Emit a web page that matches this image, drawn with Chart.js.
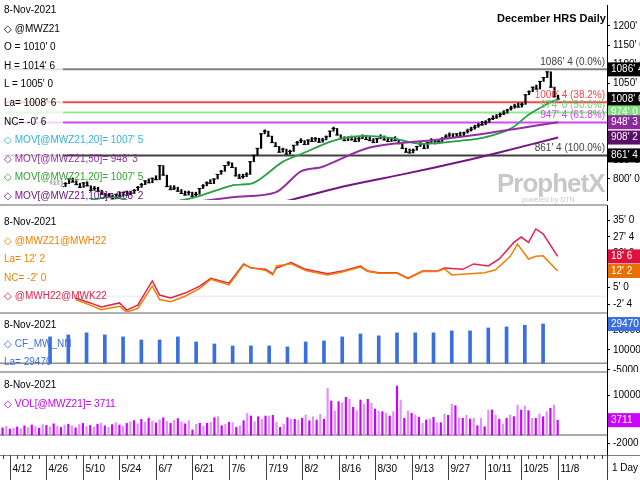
<!DOCTYPE html>
<html>
<head>
<meta charset="utf-8">
<script src="https://cdn.jsdelivr.net/npm/chart.js@4.4.0/dist/chart.umd.min.js"></script>
<style>
  body { margin: 0; background: #fff; font-family: "Liberation Sans", Arial, sans-serif; }
  #wrap { position: relative; width: 640px; height: 480px; overflow: hidden; }
  .pn { position: absolute; left: 0; width: 640px; }
  .lg { position: absolute; left: 4px; font-size: 10px; line-height: 18.6px; white-space: nowrap; }
  .sep { position: absolute; left: 0; width: 607px; height: 2px; background: #b0b0b0; }
</style>
</head>
<body>
<div id="wrap">
  <div class="pn" style="top:0;height:205px"><canvas id="c1" width="640" height="205"></canvas></div>
  <div class="pn" style="top:205px;height:108px"><canvas id="c2" width="640" height="108"></canvas></div>
  <div class="pn" style="top:313px;height:59px"><canvas id="c3" width="640" height="59"></canvas></div>
  <div class="pn" style="top:372px;height:108px"><canvas id="c4" width="640" height="108"></canvas></div>
  <div class="sep" style="top:204px"></div>
  <div class="sep" style="top:312px"></div>
  <div class="sep" style="top:371px"></div>

  <div class="lg" style="top:1px">
    <div>8-Nov-2021</div>
    <div>&#9671; @MWZ21</div>
    <div>O = 1010' 0</div>
    <div>H = 1014' 6</div>
    <div>L = 1005' 0</div>
    <div>La= 1008' 6</div>
    <div>NC= -0' 6</div>
    <div style="color:#30b0e0">&#9671; MOV[@MWZ21,20]= 1007' 5</div>
    <div style="color:#9030a0">&#9671; MOV[@MWZ21,50]= 948' 3</div>
    <div style="color:#30a030">&#9671; MOV[@MWZ21,20]= 1007' 5</div>
    <div style="color:#701880">&#9671; MOV[@MWZ21,100]= 908' 2</div>
  </div>
  <div class="lg" style="top:213px">
    <div>8-Nov-2021</div>
    <div style="color:#f08000">&#9671; @MWZ21@MWH22</div>
    <div style="color:#f08000">La= 12' 2</div>
    <div style="color:#f08000">NC= -2' 0</div>
    <div style="color:#e8204a">&#9671; @MWH22@MWK22</div>
  </div>
  <div class="lg" style="top:316px">
    <div>8-Nov-2021</div>
    <div style="color:#3b6fe0">&#9671; CF_MW_NN</div>
    <div style="color:#3b6fe0">La= 29470</div>
  </div>
  <div class="lg" style="top:376px">
    <div>8-Nov-2021</div>
    <div style="color:#cc00ff">&#9671; VOL[@MWZ21]= 3711</div>
  </div>
  <div style="position:absolute;left:497px;top:12px;font-size:11px;font-weight:bold;font-family:'Liberation Sans Narrow','Liberation Sans',sans-serif">December HRS Daily</div>
  <div style="position:absolute;left:497px;top:168px;font-size:26px;font-weight:bold;color:#c8c8c8;letter-spacing:-1px">ProphetX</div>
  <div style="position:absolute;left:522px;top:196px;font-size:7px;color:#c8c8c8">powered by DTN</div>
  <div style="position:absolute;left:612px;top:462px;font-size:10px">1 Day</div>
</div>
<script>
// x axis = weekday index, 0 = Mon 4/12/2021
const dateLabels = ["4/12","4/26","5/10","5/24","6/7","6/21","7/6","7/19","8/2","8/16","8/30","9/13","9/27","10/11","10/25","11/8"];
const dateIdx = [0,10,20,30,40,50,60,70,80,90,100,110,120,130,140,150];

// December HRS closes, idx 10..150
const priceStart = 10;
const closes = [790,785,795,780,788,800,792,785,778,790,782,770,775,768,760,
  752,758,748,760,755,765,758,762,770,778,785,
  795,790,802,798,835,
  810,780,772,776,768,
  762,758,765,755,760,
  775,782,790,788,800,812,820,835,842,
  830,808,802,806,812,
  845,862,880,918,925,
  912,895,885,870,878,865,872,888,
  895,900,890,902,898,905,896,902,910,925,932,
  915,905,900,908,902,898,905,910,903,900,895,905,908,902,898,905,900,892,880,
  870,868,875,
  885,890,880,895,900,892,898,905,
  910,915,908,918,912,920,925,
  930,935,940,942,948,955,958,962,968,972,980,985,
  990,988,995,
  1020,1028,1040,1035,1055,
  1065,1080,
  1040,1015,1008.75];

const ma20Idx = [21,27,33,42,49,60,66,74,79,88,96,104,112,123,129,137,142,148,150];
const ma20Val = [745,753,740,740,750,783,790,845,865,900,912,907,892,900,907,932,969,1001,1007.6];
const ma50Idx = [48,60,72,79,85,98,116,125,139,150];
const ma50Val = [738,752,765,820,832,882,902,912,932,948.4];
const ma100Idx = [74,92,107,123,134,150];
const ma100Val = [740,783,812,845,870,908.25];

const fibVals = [1086.5,1000.5,974,947.5,861.5];
const fibText = ["1086' 4 (0.0%)","1000' 4 (38.2%)","974' 0 (50.0%)","947' 4 (61.8%)","861' 4 (100.0%)"];
const fibColors = ["#808080","#f04848","#90e890","#d848f0","#404040"];

// spreads
const redIdx = [18,22,25,30,32,35,39,41,44,48,52,55,60,64,66,70,72,73,77,81,87,91,96,98,101,106,109,113,117,119,124,127,131,134,138,140,142,144,146,150];
const redVal = [0.2,-2,-3.8,-2,-5.2,-3,7.8,1.5,0.2,2.4,5.5,9,6.8,15.4,13.6,13,11,13.6,16,13,11,12.2,14.5,12.2,11.5,11.5,9,12.2,12.2,13.6,13,15.4,14.5,17.6,25,27.4,25,31,28.8,18.75];
const orangeIdx = [18,22,25,30,32,35,39,41,44,48,52,55,60,64,66,70,72,73,77,81,87,91,96,98,101,106,109,113,117,119,121,124,130,133,137,139,142,144,146,150];
const orangeVal = [-0.5,-3,-5,-3.5,-6,-4.5,5.5,-0.5,-1.5,1,4.5,8.5,6,15,13.8,12.5,10.5,14.5,15.5,12.5,10.5,11.8,14,12,11.2,11.2,8.8,12,12,13.2,10.5,10.8,11.5,12.8,18.8,24.3,17.6,18.8,19,12.25];

// weekly CF_MW_NN, every 5th weekday from idx 11
const cotStart = 11;
const cotVal = [19800,21300,22800,21300,19800,17500,17500,19800,16000,14500,13000,13000,13000,12300,16000,16800,19800,22000,20600,22800,22800,22800,24300,24300,26500,27300,28500,29470];

// daily volume, idx -2..150
const volStart = -2;
const volVal = [1800,2200,1500,1700,2000,1600,2300,1900,2500,2100,1700,2600,2400,2000,2800,2200,1900,2500,2700,2300,
  1800,2600,2900,2100,2400,2000,2700,3000,2300,1900,2600,3100,2500,2200,2900,3300,3600,2800,3900,3200,
  4200,3500,3000,3800,4300,3400,2900,3700,4100,3300,2800,3600,
  1250,2670,2920,2250,2920,3170,4330,4580,2330,2670,3170,3080,1920,2330,3580,5420,4750,3330,4580,3920,
  4750,4750,4920,3170,1920,2670,4330,4000,3920,3750,4170,5000,3580,4580,3750,5170,3920,11670,8500,6000,
  8330,8080,9420,8920,6920,6080,8750,7750,8920,7920,6500,6000,5830,5420,4750,5830,12250,8750,4170,6000,
  5420,5000,4420,2920,3750,4000,4420,3080,3080,5170,4920,7670,7330,4330,4170,4920,4000,4170,2330,
  4170,2080,6250,6250,5000,3920,2750,4170,5000,4580,7500,6250,7250,6080,4170,4170,5250,4580,5830,6670,7500,3711];

const X_MIN = -2.7, X_MAX = 163.5;
const FONT = { family: "'Liberation Sans', Arial, sans-serif", size: 10 };

function pts(ix, vals) { return ix.map((x, i) => ({ x: x, y: vals[i] })); }

function eighths(v) {
  const w = Math.trunc(v);
  const f = Math.round(Math.abs(v - w) * 8);
  return (v < 0 && w === 0 ? "-0" : w) + "' " + f;
}

function panelPlugin(cfg) {
  return {
    id: "panel" + Math.random(),
    beforeDatasetsDraw(chart) {
      const ctx = chart.ctx, a = chart.chartArea, ys = chart.scales.y;
      ctx.save();
      (cfg.hlines || []).forEach(h => {
        const y = ys.getPixelForValue(h.v);
        ctx.strokeStyle = h.color; ctx.lineWidth = h.w || 2;
        ctx.beginPath(); ctx.moveTo(a.left, y); ctx.lineTo(a.right, y); ctx.stroke();
      });
      ctx.restore();
    },
    afterDatasetsDraw(chart) {
      const ctx = chart.ctx, a = chart.chartArea, ys = chart.scales.y;
      ctx.save();
      if (cfg.fade) {
        ctx.fillStyle = "rgba(255,255,255,0.75)";
        ctx.fillRect(a.left, a.top, cfg.fade, a.bottom - a.top);
      }
      ctx.font = "10px 'Liberation Sans', Arial";
      ctx.textAlign = "right"; ctx.textBaseline = "bottom";
      (cfg.labels || []).forEach(l => {
        ctx.fillStyle = l.color;
        ctx.fillText(l.text, a.right - 2, ys.getPixelForValue(l.v) - 2);
      });
      ctx.restore();
    },
    afterDraw(chart) {
      const ctx = chart.ctx, a = chart.chartArea, ys = chart.scales.y;
      ctx.save();
      ctx.font = "10px 'Liberation Sans', Arial";
      ctx.textBaseline = "middle"; ctx.textAlign = "left";
      (cfg.boxes || []).forEach(b => {
        const y = ys.getPixelForValue(b.v);
        ctx.fillStyle = b.bg;
        ctx.fillRect(a.right + 1, y - 7, 640 - a.right, 14);
        ctx.fillStyle = b.fg || "#fff";
        ctx.fillText(b.text, a.right + 4, y);
      });
      if (cfg.xaxis) {
        const xs = chart.scales.x;
        ctx.strokeStyle = "#808080"; ctx.lineWidth = 1;
        ctx.beginPath(); ctx.moveTo(a.left, a.bottom + 0.5); ctx.lineTo(640, a.bottom + 0.5); ctx.stroke();
        ctx.strokeStyle = "#404040";
        for (let i = -2; i <= 163; i += 2) {
          const x = Math.round(xs.getPixelForValue(i)) + 0.5;
          ctx.beginPath(); ctx.moveTo(x, a.bottom); ctx.lineTo(x, a.bottom + 4); ctx.stroke();
        }
        ctx.fillStyle = "#000"; ctx.textBaseline = "middle";
        dateIdx.forEach((d, i) => {
          const x = Math.round(xs.getPixelForValue(d)) + 0.5;
          ctx.beginPath(); ctx.moveTo(x, a.bottom); ctx.lineTo(x, chart.height); ctx.stroke();
          ctx.fillText(dateLabels[i], x + 2, a.bottom + 14);
        });
        ctx.beginPath(); ctx.moveTo(a.right + 0.5, a.bottom); ctx.lineTo(a.right + 0.5, chart.height); ctx.stroke();
      }
      ctx.restore();
    }
  };
}

function makePanel(id, datasets, y, cfg) {
  const xScale = {
    type: "linear", min: X_MIN, max: X_MAX, offset: false,
    display: !!cfg.xaxis,
    ticks: { display: false }, grid: { display: false }, border: { display: false }
  };
  if (cfg.xaxis) xScale.afterFit = s => { s.height = 25; };
  return new Chart(document.getElementById(id), {
    type: "bar",
    data: { datasets: datasets },
    options: {
      responsive: false, animation: false,
      layout: { padding: 0 },
      plugins: { legend: { display: false }, tooltip: { enabled: false } },
      scales: {
        x: xScale,
        y: {
          position: "right", min: y.min, max: y.max,
          afterBuildTicks(s) { s.ticks = y.ticks.map(v => ({ value: v })); },
          afterFit(s) { s.width = 33; s.paddingTop = 0; s.paddingBottom = 0; },
          ticks: { font: FONT, color: "#000", padding: 3, callback: y.fmt },
          grid: { drawOnChartArea: false, tickLength: 3, color: "#000" },
          border: { display: true, color: "#000", width: 1 }
        }
      }
    },
    plugins: [panelPlugin(cfg)]
  });
}

// main panel
const priceBars = closes.map((c, i) => ({ x: priceStart + i, y: [i ? closes[i - 1] : c - 4, c] }));
const closeTicks = closes.map((c, i) => ({ x: priceStart + i, y: c }));
makePanel("c1", [
  { type: "line", data: pts(ma100Idx, ma100Val), borderColor: "#701880", borderWidth: 2, pointRadius: 0, tension: 0.3 },
  { type: "line", data: pts(ma50Idx, ma50Val), borderColor: "#9030a0", borderWidth: 2, pointRadius: 0, tension: 0.3 },
  { type: "line", data: pts(ma20Idx, ma20Val), borderColor: "#30a030", borderWidth: 1.5, pointRadius: 0, tension: 0.3 },
  { type: "line", data: pts(ma20Idx, ma20Val), borderColor: "#30b8e0", borderWidth: 1.5, pointRadius: 0, tension: 0.3 },
  { type: "bar", data: priceBars, backgroundColor: "#000", barThickness: 1.5, minBarLength: 4 },
  { type: "scatter", data: closeTicks, pointStyle: "line", radius: 2, borderColor: "#000", borderWidth: 1 }
], {
  min: 745, max: 1254.7,
  ticks: [800,850,900,950,1000,1050,1100,1150,1200],
  fmt: v => v + "' 0"
}, {
  hlines: fibVals.map((v, i) => ({ v: v, color: fibColors[i], w: 2 })),
  labels: fibVals.map((v, i) => ({ v: v, text: fibText[i], color: i === 2 ? "#70d070" : fibColors[i] === "#808080" ? "#404040" : fibColors[i] })),
  fade: 58,
  boxes: [
    { v: 1086.5, text: "1086' 4", bg: "#000" },
    { v: 1008.75, text: "1008' 6", bg: "#000" },
    { v: 974, text: "974' 0", bg: "#80e080" },
    { v: 948.4, text: "948' 3", bg: "#8a2a9a" },
    { v: 908.25, text: "908' 2", bg: "#5a1068" },
    { v: 861.5, text: "861' 4", bg: "#000" }
  ]
});

// spreads panel
makePanel("c2", [
  { type: "line", data: pts(orangeIdx, orangeVal), borderColor: "#f08000", borderWidth: 1.5, pointRadius: 0 },
  { type: "line", data: pts(redIdx, redVal), borderColor: "#e8204a", borderWidth: 1.5, pointRadius: 0 }
], {
  min: -6.5, max: 41.7,
  ticks: [-2.5,5,12.5,20,27.5,35],
  fmt: v => eighths(v)
}, {
  hlines: [{ v: 1.0, color: "#e8e8e8", w: 1 }],
  fade: 75,
  boxes: [
    { v: 18.75, text: "18' 6", bg: "#e0103c" },
    { v: 12.25, text: "12' 2", bg: "#e87000" }
  ]
});

// CF_MW_NN panel
makePanel("c3", [
  { type: "bar", data: cotVal.map((v, i) => ({ x: cotStart + i * 5, y: v })), backgroundColor: "#3b6fe0", barThickness: 3 }
], {
  min: -6500, max: 37700,
  ticks: [-5000,10000,25000],
  fmt: v => String(v)
}, {
  hlines: [{ v: 0, color: "#909090", w: 1.5 }],
  boxes: [{ v: 29470, text: "29470", bg: "#3b6fe0" }]
});

// volume panel
makePanel("c4", [
  { type: "bar", data: volVal.map((v, i) => ({ x: volStart + i, y: v })),
    backgroundColor: volVal.map((v, i) => i % 2 ? "#e090ff" : "#cc00ff"), barThickness: 1.5 }
], {
  min: -5000, max: 15750,
  ticks: [-2000,4000,10000],
  fmt: v => String(v)
}, {
  hlines: [{ v: 0, color: "#909090", w: 1.5 }],
  boxes: [{ v: 3711, text: "3711", bg: "#cc00ff" }],
  xaxis: true
});
</script>
</body>
</html>
